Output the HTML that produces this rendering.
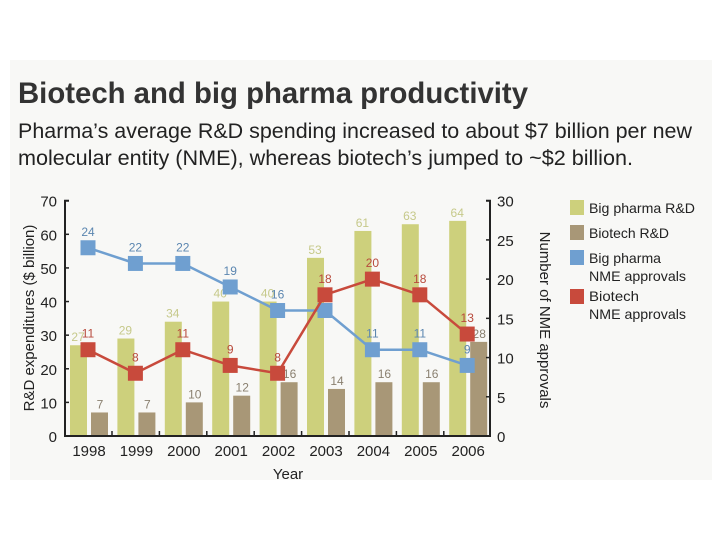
<!DOCTYPE html>
<html><head><meta charset="utf-8">
<style>
html,body{margin:0;padding:0;background:#fff;}
body{width:720px;height:540px;overflow:hidden;position:relative;font-family:"Liberation Sans",sans-serif;}
</style></head>
<body>
<svg id="chart" width="720" height="540" viewBox="0 0 720 540" xmlns="http://www.w3.org/2000/svg" font-family="Liberation Sans, sans-serif">
<rect x="10" y="60" width="702" height="420" fill="#f8f8f6"/>
<text x="18" y="103" font-size="30" font-weight="bold" fill="#333" textLength="510" lengthAdjust="spacingAndGlyphs">Biotech and big pharma productivity</text>
<text x="18" y="138" font-size="21" fill="#222" textLength="674" lengthAdjust="spacingAndGlyphs">Pharma’s average R&amp;D spending increased to about $7 billion per new</text>
<text x="18" y="165" font-size="21" fill="#222" textLength="615" lengthAdjust="spacingAndGlyphs">molecular entity (NME), whereas biotech’s jumped to ~$2 billion.</text>
<g id="plot"></g>
<g font-size="14" fill="#222">
<rect x="570" y="200" width="14" height="15" fill="#cdd07c"/>
<text x="589" y="213" textLength="106" lengthAdjust="spacingAndGlyphs">Big pharma R&amp;D</text>
<rect x="570" y="225" width="14" height="15" fill="#a89777"/>
<text x="589" y="238" textLength="80" lengthAdjust="spacingAndGlyphs">Biotech R&amp;D</text>
<rect x="570" y="250" width="14" height="15" fill="#6f9fd0"/>
<text x="589" y="263" textLength="72" lengthAdjust="spacingAndGlyphs">Big pharma</text>
<text x="589" y="281" textLength="97" lengthAdjust="spacingAndGlyphs">NME approvals</text>
<rect x="570" y="289" width="14" height="15" fill="#c84a3c"/>
<text x="589" y="301" textLength="50" lengthAdjust="spacingAndGlyphs">Biotech</text>
<text x="589" y="319" textLength="97" lengthAdjust="spacingAndGlyphs">NME approvals</text>
</g>
</svg>
<script>
const years = ["1998","1999","2000","2001","2002","2003","2004","2005","2006"];
const pharmaRD = [27,29,34,40,40,53,61,63,64];
const biotechRD = [7,7,10,12,16,14,16,16,28];
const pharmaNME = [24,22,22,19,16,16,11,11,9];
const biotechNME = [11,8,11,9,8,18,20,18,13];
const leftTicks = [0,10,20,30,40,50,60,70];
const rightTicks = [0,5,10,15,20,25,30];

const NS="http://www.w3.org/2000/svg";
const g=document.getElementById('plot');
const X0=65,X1=490,Y0=436,Y1=200.7;
const yL=v=>Y0-(v/70)*(Y0-Y1);
const yR=v=>Y0-(v/30)*(Y0-Y1);
const xC=i=>88+i*47.4;
function mk(tag,attrs,txt){const e=document.createElementNS(NS,tag);for(const k in attrs)e.setAttribute(k,attrs[k]);if(txt!==undefined)e.textContent=txt;g.appendChild(e);return e;}

years.forEach((y,i)=>{
  let e=mk('rect',{x:xC(i)-18,y:yL(pharmaRD[i]),width:17,height:Y0-yL(pharmaRD[i]),fill:'#cdd07c'});
  
  
  e=mk('rect',{x:xC(i)+3,y:yL(biotechRD[i]),width:17,height:Y0-yL(biotechRD[i]),fill:'#a89777'});
  
  
  e=mk('text',{x:xC(i)-10,y:yL(pharmaRD[i])-4,'font-size':12,fill:'#c6c98a','text-anchor':'middle'},pharmaRD[i]);
  
  
  e=mk('text',{x:xC(i)+12,y:yL(biotechRD[i])-4,'font-size':12,fill:'#8a8070','text-anchor':'middle'},biotechRD[i]);
  
  
});
let ax=mk('path',{d:`M${X0+4} ${Y1}H${X0}V${Y0}H${X1}V${Y1}H${X1-4}`,stroke:'#222','stroke-width':2,fill:'none'});


leftTicks.forEach(t=>{
  let e=mk('text',{x:X0-8,y:yL(t)+6,'font-size':15,fill:'#222','text-anchor':'end'},t);
  
  
  mk('line',{x1:X0,x2:X0+4,y1:yL(t),y2:yL(t),stroke:'#222','stroke-width':1.5});
});
rightTicks.forEach(t=>{
  let e=mk('text',{x:X1+7,y:yR(t)+6,'font-size':15,fill:'#222'},t);
  
  
  mk('line',{x1:X1,x2:X1-4,y1:yR(t),y2:yR(t),stroke:'#222','stroke-width':1.5});
});
years.forEach((y,i)=>{
  let e=mk('text',{x:xC(i)+1,y:456,'font-size':15,fill:'#222','text-anchor':'middle'},y);
  
  
  if(i<years.length-1) mk('line',{x1:xC(i)+24,x2:xC(i)+24,y1:Y0,y2:Y0-5,stroke:'#222','stroke-width':1.5});
});
let t=mk('text',{x:288,y:479,'font-size':15,fill:'#222','text-anchor':'middle'},'Year');


t=mk('text',{transform:'translate(34,318) rotate(-90)','font-size':15,fill:'#222','text-anchor':'middle'},'R&D expenditures ($ billion)');


t=mk('text',{transform:'translate(540,320) rotate(90)','font-size':15,fill:'#222','text-anchor':'middle'},'Number of NME approvals');



function series(vals,color,lblColor,name){
  const pts=vals.map((v,i)=>xC(i)+','+yR(v)).join(' ');
  let l=mk('polyline',{points:pts,fill:'none',stroke:color,'stroke-width':2.5});
  
  
  vals.forEach((v,i)=>{
    let m=mk('rect',{x:xC(i)-7.5,y:yR(v)-7.5,width:15,height:15,fill:color});
    
    
    let e=mk('text',{x:xC(i),y:yR(v)-12,'font-size':12,fill:lblColor,'text-anchor':'middle'},v);
    
    
  });
}
series(pharmaNME,'#6f9fd0','#5b86b0','big-pharma-nme');
series(biotechNME,'#c84a3c','#b84a3c','biotech-nme');
</script>
</body></html>
